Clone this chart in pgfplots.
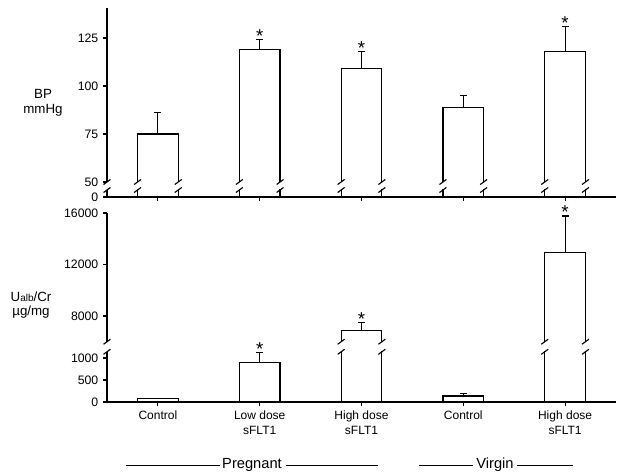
\documentclass[border=0pt]{standalone}
\usepackage{fontspec}
\setmainfont{Liberation Sans}
\usepackage{pgfplots}
\usepackage{pgfplotstable}
\pgfplotsset{compat=1.18}

\pgfplotstableread{
x y e
0 75 11
1 119 5
2 109 9
3 89 6
4 118 13
}\bpdata
\pgfplotstableread{
x y e
0 70 15
1 890 230
2 6900 600
3 136 64
4 12900 2870
}\albdata
\pgfplotstableread{
x y
1 124
2 118
4 131
}\bpstar
\pgfplotstableread{
x y
2 7500
4 15770
}\albstarU
\pgfplotstableread{
x y
1 1120
}\albstarL

\pgfplotsset{
  seg/.style={
    scale only axis, width=381.75pt, anchor=south west,
    xmin=-0.5, xmax=4.5,
    axis y line*=left,
    tick align=outside, major tick length=3pt,
    ytick pos=left,
    axis line style={line width=0.85pt},
    tick style={black, line width=0.85pt},
    yticklabel style={font=\fontsize{9.2}{10}\selectfont},
    /pgf/number format/assume math mode=true,
    /pgf/number format/1000 sep={},
    scaled y ticks=false,
    clip mode=individual,
  },
  upper/.style={seg, hide x axis},
  lower/.style={seg, axis x line*=bottom, xtick={0,1,2,3,4}, xtick pos=bottom},
  edge/.style={ycomb, black, line width=0.85pt, mark=none},
  stars/.style={draw=none, mark=none, only marks,
    nodes near coords={*},
    every node near coord/.append style={anchor=base, yshift=-2.2pt, inner sep=0pt,
      font=\fontsize{14}{14}\selectfont}},
}
\newcommand{\bars}[1]{%
  \addplot[edge] table[x expr=\thisrow{x}-0.2, y=y] {#1};
  \addplot[edge] table[x expr=\thisrow{x}+0.2, y=y] {#1};
  \addplot[draw=none, mark=none, error bars/.cd, x dir=both, x fixed=0.2,
    error mark=none, error bar style={line width=0.85pt, black, line cap=rect}]
    table[x=x, y=y] {#1};
  \addplot[draw=none, mark=none, error bars/.cd, y dir=plus, y explicit,
    error bar style={line width=0.85pt, black},
    error mark options={rotate=90, mark size=2.6pt, line width=0.85pt, black}]
    table[x=x, y=y, y error=e] {#1};
}
\newcommand{\brk}[2]{\draw[line width=0.85pt] (axis cs:#1,#2) ++(-2.6pt,-1.9pt) -- ++(5.2pt,3.8pt);}

\begin{document}
\begin{tikzpicture}
\useasboundingbox (0,0) rectangle (468pt,354.75pt);

% ---- top panel, upper segment
\begin{axis}[upper, at={(80.25pt,218.25pt)}, height=130.5pt,
  ymin=50, ymax=140.6, ytick={50,75,100,125}]
\bars{\bpdata}
\addplot[stars] table[x=x, y=y] {\bpstar};
\pgfplotsinvokeforeach{-0.5,-0.2,0.2,0.8,1.2,1.8,2.2,2.8,3.2,3.8,4.2}{\brk{#1}{50}}
\end{axis}

% ---- top panel, lower segment
\begin{axis}[lower, at={(80.25pt,207pt)}, height=5.25pt,
  ymin=0, ymax=5, ytick={0}, xticklabels={,,,,}]
\bars{\bpdata}
\pgfplotsinvokeforeach{-0.5,-0.2,0.2,0.8,1.2,1.8,2.2,2.8,3.2,3.8,4.2}{\brk{#1}{5}}
\end{axis}

% ---- bottom panel, upper segment
\begin{axis}[upper, at={(80.25pt,98.44pt)}, height=96.56pt,
  ymin=6000, ymax=16000, ytick={8000,12000,16000}]
\bars{\albdata}
\addplot[stars] table[x=x, y=y] {\albstarU};
\pgfplotsinvokeforeach{-0.5,1.8,2.2,3.8,4.2}{\brk{#1}{6000}}
\end{axis}

% ---- bottom panel, lower segment
\begin{axis}[lower, at={(80.25pt,53.25pt)}, height=37.65pt,
  ymin=0, ymax=1140, ytick={0,500,1000},
  xticklabels={Control, Low dose\\sFLT1, High dose\\sFLT1, Control, High dose\\sFLT1},
  xticklabel style={align=center, font=\fontsize{9}{11.5}\selectfont}]
\bars{\albdata}
\addplot[stars] table[x=x, y=y] {\albstarL};
\pgfplotsinvokeforeach{-0.5,1.8,2.2,3.8,4.2}{\brk{#1}{1140}}
\end{axis}

% ---- axis titles
\node[align=center, font=\fontsize{10}{11}\selectfont] at (32.25pt,277.5pt) {BP\\mmHg};
\node[align=center, font=\fontsize{10}{11}\selectfont] at (23.25pt,126pt)
  {U{\fontsize{7.5}{8}\selectfont alb}/Cr\\µg/mg};

% ---- group labels
\draw[line width=0.6pt] (94.5pt,6pt) -- (165pt,6pt);
\draw[line width=0.6pt] (214.5pt,6pt) -- (283.5pt,6pt);
\node[font=\fontsize{11}{12}\selectfont] at (189pt,6pt) {Pregnant};
\draw[line width=0.6pt] (314.25pt,6pt) -- (354.75pt,6pt);
\draw[line width=0.6pt] (387.75pt,6pt) -- (429.75pt,6pt);
\node[font=\fontsize{11}{12}\selectfont] at (371.25pt,6pt) {Virgin};
\end{tikzpicture}
\end{document}
